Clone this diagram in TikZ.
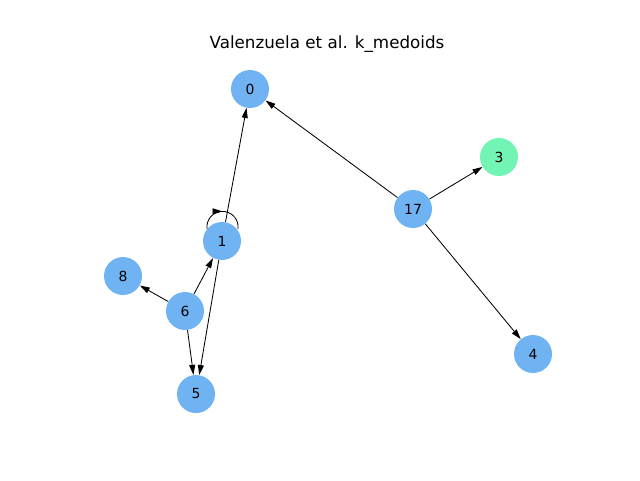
\documentclass[tikz,border=0pt]{standalone}
\usepackage{fontspec}
\setmainfont{DejaVu Sans}
\usetikzlibrary{arrows.meta}
\usetikzlibrary{decorations.markings}

\definecolor{nodeblue}{RGB}{111,179,243}
\definecolor{nodegreen}{RGB}{113,244,180}

\begin{document}
\begin{tikzpicture}[
        vertex/.style={circle, fill=nodeblue, minimum size=0.95cm, inner sep=0pt,
            font=\fontsize{9.9}{11}\selectfont},
        medoid/.style={vertex, fill=nodegreen},
        link/.style={-{Triangle[length=0.25cm,width=0.15cm]}, semithick},
        midarrow/.style={semithick, decoration={markings,
            mark=at position 0.5 with {\arrow{Triangle[length=0.25cm,width=0.15cm]}}},
            postaction={decorate}}
    ]
        \useasboundingbox (0,0) rectangle (16,12);
        \node at (8.175,10.9) {\fontsize{11.9}{14}\selectfont Valenzuela et al. k\_medoids};

        \node[vertex] (n0) at (6.25,9.775) {0};
        \node[medoid] (n3) at (12.475,8.075) {3};
        \node[vertex] (n17) at (10.325,6.775) {17};
        \node[vertex] (n1) at (5.55,5.975) {1};
        \node[vertex] (n8) at (3.075,5.1) {8};
        \node[vertex] (n6) at (4.625,4.225) {6};
        \node[vertex] (n5) at (4.9,2.15) {5};
        \node[vertex] (n4) at (13.325,3.15) {4};

        \draw[link] (n17) -- (n0);
        \draw[link] (n17) -- (n3);
        \draw[link] (n17) -- (n4);
        \draw[link] (n1) -- (n0);
        \draw[link] (n1) -- (n5);
        \draw[link] (n6) -- (n1);
        \draw[link] (n6) -- (n8);
        \draw[link] (n6) -- (n5);
        \draw[midarrow] (n1.141) arc (187:-7:0.39);
    \end{tikzpicture}
\end{document}
